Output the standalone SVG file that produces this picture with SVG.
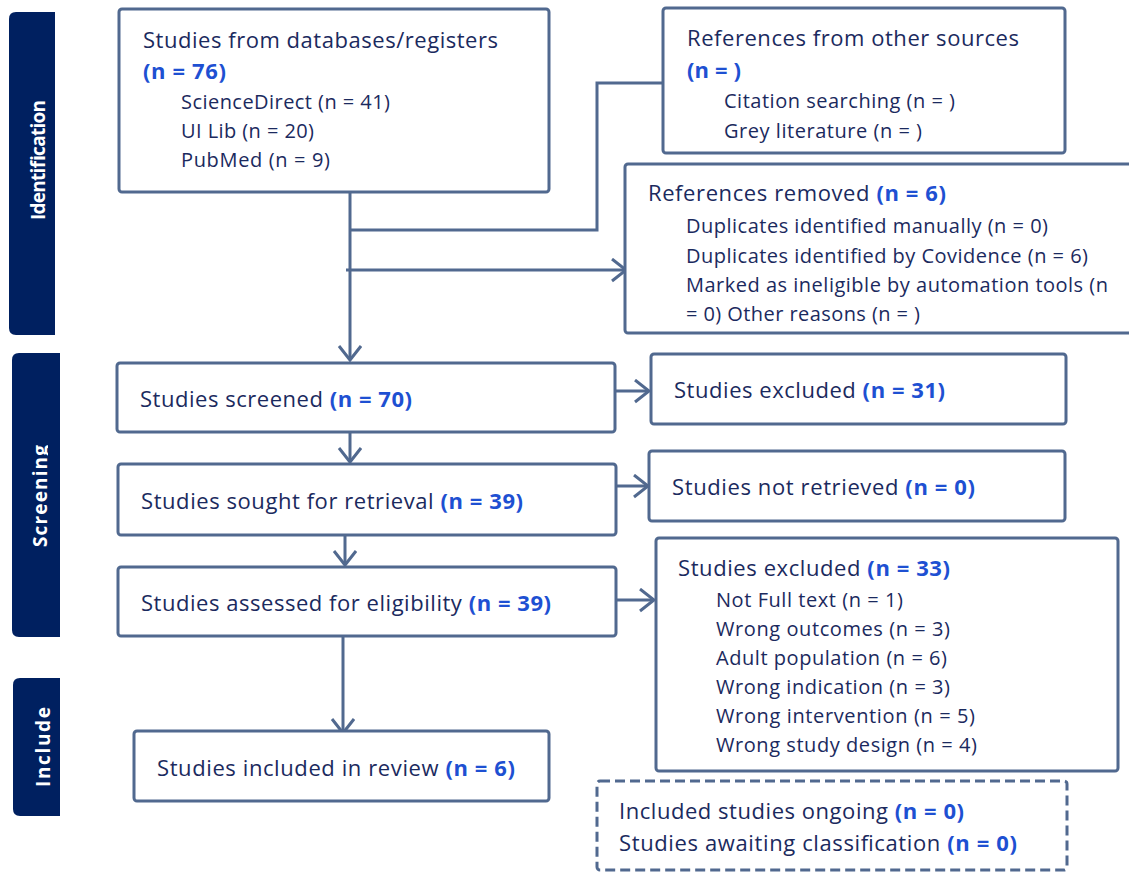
<svg xmlns="http://www.w3.org/2000/svg" width="1129" height="873" viewBox="0 0 1129 873">
<defs>
<style>
.box{fill:#fff;stroke:#51698F;stroke-width:3}
.dash{fill:#fff;stroke:#51698F;stroke-width:3;stroke-dasharray:10 5}
.ln{fill:none;stroke:#51698F;stroke-width:3}
.t{font-family:"Open Sans","Liberation Sans",sans-serif;font-size:22px;fill:#1B2A5E}
.s{font-size:20px}
.b{font-weight:bold;fill:#1E50D2}
.bar{fill:#002060}
.bt{font-family:"Open Sans","Liberation Sans",sans-serif;font-size:19px;font-weight:bold;fill:#fff}
</style>
<marker id="ar" markerUnits="userSpaceOnUse" markerWidth="20" markerHeight="26" refX="15" refY="12" orient="auto">
<path d="M1,1 L15,12 L1,23" fill="none" stroke="#51698F" stroke-width="3"/>
</marker>
<clipPath id="c2"><rect x="12" y="353" width="36" height="284"/></clipPath>
<clipPath id="c3"><rect x="13" y="678" width="38" height="138"/></clipPath>
</defs>

<g id="phase-identification">
<path class="bar" d="M55,12 V335 H16 Q9,335 9,328 V19 Q9,12 16,12 Z"/>
<text class="bt" transform="translate(45,220) rotate(-90)" textLength="120">Identification</text>
</g>
<g id="phase-screening">
<path class="bar" d="M60,353 V637 H19 Q12,637 12,630 V360 Q12,353 19,353 Z"/>
<g clip-path="url(#c2)"><text class="bt" transform="translate(47,547) rotate(-90)" textLength="102">Screening</text></g>
</g>
<g id="phase-include">
<path class="bar" d="M60,678 V816 H20 Q13,816 13,809 V685 Q13,678 20,678 Z"/>
<g clip-path="url(#c3)"><text class="bt" transform="translate(50,787) rotate(-90)" textLength="80">Include</text></g>
</g>

<g id="connectors">
<path class="ln" d="M350,192 V360" marker-end="url(#ar)"/>
<path class="ln" d="M350,230 H597 V83 H663"/>
<path class="ln" d="M346,270 H626" marker-end="url(#ar)"/>
<path class="ln" d="M607,391 H649" marker-end="url(#ar)"/>
<path class="ln" d="M350,432 V462" marker-end="url(#ar)"/>
<path class="ln" d="M609,486 H648" marker-end="url(#ar)"/>
<path class="ln" d="M345,535 V565" marker-end="url(#ar)"/>
<path class="ln" d="M609,600 H654" marker-end="url(#ar)"/>
<path class="ln" d="M343,636 V733" marker-end="url(#ar)"/>
</g>

<g id="databases">
<rect class="box" x="119" y="9" width="430" height="183" rx="3"/>
<text class="t" x="143" y="48" textLength="355">Studies from databases/registers</text>
<text class="t b" x="143" y="79" textLength="83">(n = 76)</text>
<text class="t s" x="181" y="109" textLength="209">ScienceDirect (n = 41)</text>
<text class="t s" x="181" y="138" textLength="133">UI Lib (n = 20)</text>
<text class="t s" x="181" y="167" textLength="149">PubMed (n = 9)</text>
</g>

<g id="other-sources">
<rect class="box" x="663" y="8" width="402" height="145" rx="3"/>
<text class="t" x="687" y="46" textLength="332">References from other sources</text>
<text class="t b" x="687" y="78" textLength="54">(n = )</text>
<text class="t s" x="724" y="108" textLength="231">Citation searching (n = )</text>
<text class="t s" x="724" y="138" textLength="198">Grey literature (n = )</text>
</g>

<g id="removed">
<rect class="box" x="625" y="164" width="510" height="169" rx="3"/>
<text class="t" x="648" y="201" textLength="298">References removed <tspan class="b">(n = 6)</tspan></text>
<text class="t s" x="686" y="233" textLength="362">Duplicates identified manually (n = 0)</text>
<text class="t s" x="686" y="263" textLength="402">Duplicates identified by Covidence (n = 6)</text>
<text class="t s" x="686" y="292" textLength="422">Marked as ineligible by automation tools (n</text>
<text class="t s" x="686" y="321" textLength="234">= 0) Other reasons (n = )</text>
</g>

<g id="screened">
<rect class="box" x="117" y="363" width="498" height="69" rx="3"/>
<text class="t" x="140" y="407" textLength="272">Studies screened <tspan class="b">(n = 70)</tspan></text>
</g>

<g id="excluded-31">
<rect class="box" x="651" y="354" width="415" height="70" rx="3"/>
<text class="t" x="674" y="398" textLength="271">Studies excluded <tspan class="b">(n = 31)</tspan></text>
</g>

<g id="retrieval">
<rect class="box" x="118" y="464" width="498" height="71" rx="3"/>
<text class="t" x="141" y="509" textLength="382">Studies sought for retrieval <tspan class="b">(n = 39)</tspan></text>
</g>

<g id="not-retrieved">
<rect class="box" x="649" y="451" width="416" height="70" rx="3"/>
<text class="t" x="672" y="495" textLength="303">Studies not retrieved <tspan class="b">(n = 0)</tspan></text>
</g>

<g id="eligibility">
<rect class="box" x="118" y="567" width="498" height="69" rx="3"/>
<text class="t" x="141" y="611" textLength="410">Studies assessed for eligibility <tspan class="b">(n = 39)</tspan></text>
</g>

<g id="excluded-33">
<rect class="box" x="656" y="538" width="462" height="233" rx="3"/>
<text class="t" x="678" y="576" textLength="272">Studies excluded <tspan class="b">(n = 33)</tspan></text>
<text class="t s" x="716" y="607" textLength="187">Not Full text (n = 1)</text>
<text class="t s" x="716" y="636" textLength="234">Wrong outcomes (n = 3)</text>
<text class="t s" x="716" y="665" textLength="231">Adult population (n = 6)</text>
<text class="t s" x="716" y="694" textLength="234">Wrong indication (n = 3)</text>
<text class="t s" x="716" y="723" textLength="259">Wrong intervention (n = 5)</text>
<text class="t s" x="716" y="752" textLength="261">Wrong study design (n = 4)</text>
</g>

<g id="included">
<rect class="box" x="134" y="731" width="415" height="70" rx="3"/>
<text class="t" x="157" y="776" textLength="358">Studies included in review <tspan class="b">(n = 6)</tspan></text>
</g>

<g id="ongoing">
<rect class="dash" x="597" y="781" width="470" height="89" rx="3"/>
<text class="t" x="619" y="819" textLength="345">Included studies ongoing <tspan class="b">(n = 0)</tspan></text>
<text class="t" x="619" y="851" textLength="398">Studies awaiting classification <tspan class="b">(n = 0)</tspan></text>
</g>
</svg>
